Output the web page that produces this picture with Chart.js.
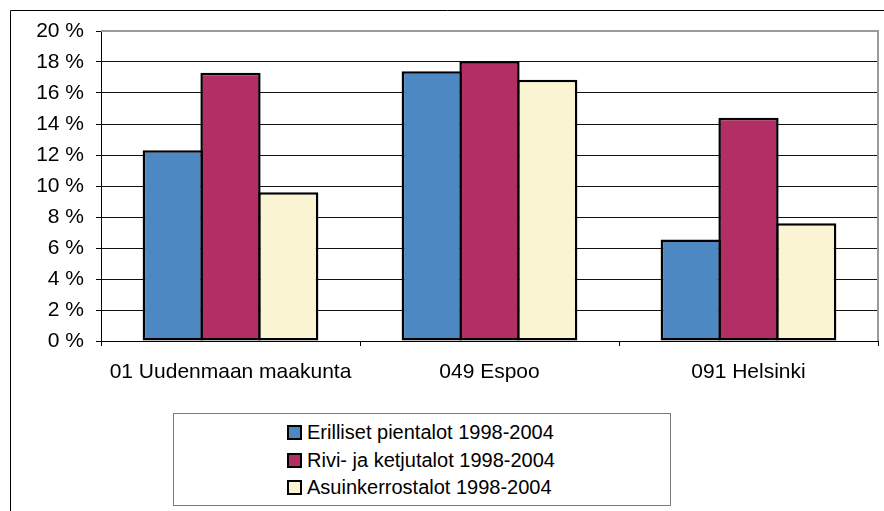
<!DOCTYPE html>
<html>
<head>
<meta charset="utf-8">
<script src="https://cdn.jsdelivr.net/npm/chart.js@4.4.1/dist/chart.umd.min.js"></script>
<style>
  html, body { margin: 0; padding: 0; background: #fff; overflow: hidden; }
  #wrap { position: relative; width: 884px; height: 511px; }
  #c { position: absolute; left: 0; top: 0; }
  #legend {
    position: absolute; left: 173px; top: 413px; width: 496px; height: 91px;
    border: 1px solid #7a7a7a; background: #fff;
    font-family: "Liberation Sans", Arial, sans-serif; font-size: 20px; color: #000;
    box-sizing: content-box;
  }
  #legend ul { list-style: none; margin: 0; padding: 5px 0 0 113px; }
  #legend li { height: 27.5px; line-height: 27.5px; display: flex; align-items: center; white-space: nowrap; }
  #legend .sw { width: 11px; height: 11px; border: 2px solid #000; margin-right: 5px; flex: none; }
</style>
</head>
<body>
<div id="wrap">
  <canvas id="c" width="884" height="511"></canvas>
  <div id="legend"><ul id="legendList"></ul></div>
</div>
<script>
// ---- data ----
const categories = ['01 Uudenmaan maakunta', '049 Espoo', '091 Helsinki'];
const seriesNames = ['Erilliset pientalot 1998-2004', 'Rivi- ja ketjutalot 1998-2004', 'Asuinkerrostalot 1998-2004'];
const erillisetPientalot = [12.3, 17.4, 6.55];
const riviJaKetjutalot = [17.3, 18.05, 14.4];
const asuinkerrostalot = [9.6, 16.85, 7.6];
const seriesColors = ['#4E88C2', '#B42E66', '#FAF4D2'];
const yMin = 0, yMax = 20, yStep = 2;

const seriesValues = [erillisetPientalot, riviJaKetjutalot, asuinkerrostalot];
const FONT = '"Liberation Sans", Arial, sans-serif';

const frame = {
  id: 'frame',
  beforeDraw(chart) {
    const ctx = chart.ctx;
    ctx.save();
    ctx.strokeStyle = '#000';
    ctx.lineWidth = 1;
    ctx.beginPath();
    ctx.moveTo(10.5, 511);
    ctx.lineTo(10.5, 10.5);
    ctx.lineTo(884, 10.5);
    ctx.stroke();
    ctx.restore();
  },
  afterDatasetsDraw(chart) {
    const a = chart.chartArea;
    const ctx = chart.ctx;
    ctx.save();
    ctx.strokeStyle = '#9a9a9a';
    ctx.lineWidth = 2;
    ctx.beginPath();
    ctx.moveTo(a.left, a.top);
    ctx.lineTo(a.right, a.top);
    ctx.lineTo(a.right, a.bottom);
    ctx.stroke();
    ctx.restore();
  }
};

new Chart(document.getElementById('c'), {
  type: 'bar',
  data: {
    labels: categories,
    datasets: seriesNames.map((n, i) => ({
      label: n,
      data: seriesValues[i],
      backgroundColor: seriesColors[i],
      borderColor: '#000',
      borderWidth: 2.5,
      borderSkipped: false,
      categoryPercentage: 0.669,
      barPercentage: 1.043
    }))
  },
  options: {
    responsive: false,
    animation: false,
    devicePixelRatio: 1,
    layout: { padding: { left: 0, right: 6, top: 31, bottom: 110 } },
    plugins: { legend: { display: false }, tooltip: { enabled: false } },
    scales: {
      x: {
        type: 'category',
        offset: true,
        afterFit(s) { s.height = 60; },
        grid: { offset: true, drawOnChartArea: false, drawTicks: true, tickLength: 5, color: '#000', lineWidth: 1 },
        border: { color: '#000', width: 1 },
        ticks: { color: '#000', font: { family: FONT, size: 21 }, padding: 14, maxRotation: 0, autoSkip: false }
      },
      y: {
        min: yMin, max: yMax,
        afterFit(s) { s.width = 101; },
        grid: { color: (c) => (c.tick && c.tick.value === yMax ? '#9a9a9a' : '#111'), lineWidth: 1, tickLength: 5, tickColor: '#000' },
        border: { color: '#000', width: 1 },
        ticks: { stepSize: yStep, color: '#000', font: { family: FONT, size: 21 }, padding: 12, callback: (v) => v + ' %' }
      }
    }
  },
  plugins: [frame]
});

// legend built from the series arrays
const ul = document.getElementById('legendList');
seriesNames.forEach((n, i) => {
  const li = document.createElement('li');
  const sw = document.createElement('span');
  sw.className = 'sw';
  sw.style.background = seriesColors[i];
  li.appendChild(sw);
  li.appendChild(document.createTextNode(n));
  ul.appendChild(li);
});
</script>
</body>
</html>
